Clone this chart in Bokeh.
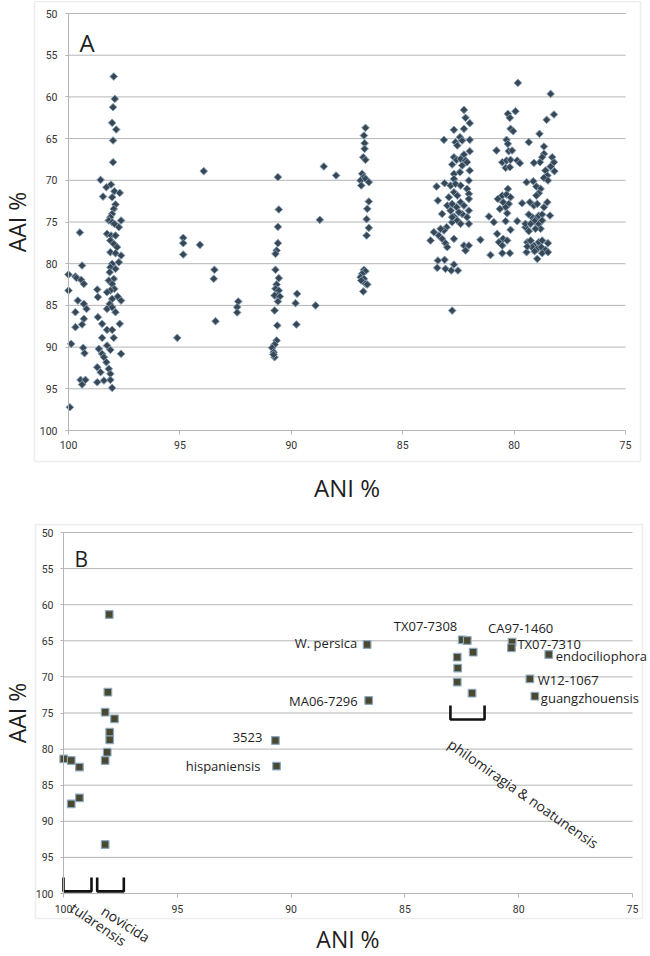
import numpy as np
from bokeh.plotting import figure
from bokeh.models import Range1d, FixedTicker, BoxAnnotation, Label
from bokeh.layouts import column
from bokeh.embed import file_html
from bokeh.resources import INLINE

# ---------------- data ----------------
x_ticks = [100, 95, 90, 85, 80, 75]
y_ticks = [50, 55, 60, 65, 70, 75, 80, 85, 90, 95, 100]

# Panel A: all pairwise comparisons (ANI %, AAI %)
a_tul_ani = [100.0, 100.0, 99.69, 99.64, 99.49, 99.39, 99.43, 99.31, 99.58, 99.31, 99.19,
             99.69, 99.31, 99.39, 99.69, 99.88, 99.34, 99.28, 99.46, 99.39, 99.24, 99.94]
a_tul_aai = [81.3, 83.22, 81.54, 81.7, 76.26, 80.22, 81.94, 82.42, 84.42, 84.82, 85.42,
             85.81, 86.61, 87.29, 87.61, 89.61, 90.09, 90.73, 93.93, 94.49, 93.93, 97.21]

a_nov_ani = [97.97, 97.92, 98.0, 98.04, 97.86, 98.0, 98.0, 98.56, 98.3, 98.09, 98.45, 98.04,
             97.94, 97.7, 97.89, 97.97, 98.04, 98.12, 98.19, 98.04, 97.94, 97.64, 97.74, 98.27,
             98.09, 97.89, 98.12, 97.97, 97.82, 98.12, 97.89, 97.64, 97.74, 98.04, 98.12, 97.89,
             98.15, 97.97, 98.19, 98.04, 97.94, 98.12, 98.27, 97.79, 97.64, 98.04, 98.15, 98.27,
             98.04, 97.89, 97.7, 98.49, 98.68, 98.49, 97.97, 98.27, 98.04, 98.27, 98.12, 98.64,
             98.49, 98.41, 97.64, 98.3, 98.71, 98.56, 98.19, 98.12, 98.71, 98.41, 98.12, 98.04,
             98.71, 98.68]
a_nov_aai = [57.56, 60.24, 61.24, 63.11, 63.91, 65.23, 67.83, 69.95, 70.83, 70.51, 71.95, 72.03,
             71.31, 71.51, 72.9, 73.43, 74.02, 74.42, 74.82, 75.02, 75.22, 74.82, 75.62, 76.42,
             76.62, 76.62, 77.22, 77.62, 78.02, 78.62, 78.74, 79.02, 79.82, 80.02, 80.42, 80.62,
             81.02, 81.82, 82.02, 82.42, 83.02, 83.22, 83.42, 83.94, 84.42, 84.22, 84.82, 85.42,
             85.22, 85.81, 87.21, 87.21, 86.41, 88.89, 88.89, 87.93, 87.93, 89.81, 90.33, 90.21,
             90.81, 91.21, 90.81, 91.81, 92.41, 93.01, 92.61, 93.21, 94.21, 94.01, 93.93, 94.89,
             83.1, 84.0]

a_mid_ani = [94.85, 94.85, 94.85, 95.12, 93.93, 90.6, 94.1, 93.45, 93.48, 93.4, 92.38, 92.43,
             92.43, 90.56, 90.6, 90.6, 90.66, 90.71, 90.71, 90.56, 90.66, 90.71, 90.56, 90.63,
             90.75, 90.51, 90.6, 90.75, 89.74, 89.81, 88.91, 89.77, 90.63, 90.66, 90.75, 90.86,
             90.79, 90.75, 90.8, 88.54, 87.99, 88.72]
a_mid_aai = [76.9, 77.54, 78.9, 88.89, 68.9, 69.62, 77.74, 80.73, 81.81, 86.89, 84.53, 85.21,
             85.85, 73.5, 75.58, 77.54, 78.42, 78.82, 80.73, 81.73, 82.49, 83.01, 83.21, 83.81,
             83.81, 83.93, 84.53, 85.61, 83.61, 84.73, 85.01, 87.29, 87.41, 89.21, 89.69, 90.09,
             90.61, 91.21, 90.9, 68.34, 69.42, 74.74]

a_per_ani = [86.67, 86.74, 86.71, 86.71, 86.77, 86.67, 86.82, 86.74, 86.89, 86.67, 86.52, 86.86,
             86.52, 86.59, 86.62, 86.52, 86.62, 86.74, 86.67, 86.82, 86.89, 86.74, 86.86, 86.67,
             86.59, 86.77]
a_per_aai = [63.71, 64.63, 65.55, 66.23, 67.23, 67.55, 69.22, 69.62, 70.02, 69.82, 70.22, 70.62,
             72.54, 73.42, 74.66, 75.7, 76.62, 80.73, 80.89, 81.21, 81.61, 81.81, 82.01, 82.41,
             82.49, 83.33]

a_phi_ani = [82.25, 82.18, 82.7, 82.25, 81.99, 83.15, 82.63, 82.43, 82.33, 81.99, 82.55, 81.99,
             82.25, 82.7, 82.58, 82.4, 82.18, 82.78, 82.33, 82.11, 81.99, 82.7, 82.43, 82.7,
             83.48, 83.12, 82.85, 82.63, 82.4, 82.03, 82.11, 82.7, 82.55, 82.03, 83.42, 83.0,
             82.78, 82.58, 82.4, 82.25, 82.03, 82.03, 83.23, 82.7, 82.33, 82.11, 82.78, 82.55,
             82.4, 82.03, 83.03, 83.15, 83.6, 83.75, 83.38, 83.23, 83.08, 83.0, 82.7, 82.25,
             82.03, 82.18, 83.42, 83.45, 83.12, 83.08, 82.82, 82.7, 82.52, 82.78, 81.51, 82.93,
             82.85, 82.48, 83.3, 82.78]
a_phi_aai = [61.56, 62.51, 63.95, 63.83, 63.15, 65.15, 65.43, 64.83, 65.23, 65.15, 65.83, 66.51,
             66.91, 67.23, 67.55, 67.43, 67.63, 68.11, 68.23, 67.83, 68.83, 69.23, 69.03, 69.83,
             70.75, 70.35, 70.63, 70.43, 70.63, 70.03, 71.03, 71.43, 71.83, 71.63, 72.43, 73.03,
             72.83, 73.23, 72.63, 73.03, 72.23, 73.63, 74.03, 74.34, 74.03, 74.42, 75.02, 74.82,
             75.22, 75.22, 75.62, 76.02, 76.22, 77.22, 76.62, 77.02, 77.54, 78.02, 77.02, 77.82,
             77.82, 78.42, 79.62, 80.5, 79.54, 80.62, 80.82, 80.1, 80.82, 85.62, 77.14, 72.03,
             73.63, 73.83, 75.82, 74.42]

a_c80_ani = [79.83, 80.28, 80.19, 79.94, 80.16, 80.04, 80.34, 80.28, 80.24, 80.09, 80.53, 80.34,
             80.16, 79.86, 79.74, 80.38, 80.19, 80.79, 80.28, 80.53, 80.34, 80.16, 80.73, 80.49,
             80.24, 80.38, 80.64, 80.31, 79.64, 81.13, 80.91, 80.38, 80.16, 80.76, 80.49, 80.68,
             80.31, 80.53, 80.53, 80.19, 79.86, 81.06, 79.34, 79.44, 79.29, 79.49, 79.41, 79.44]
a_c80_aai = [58.32, 62.03, 62.51, 61.72, 63.83, 64.11, 65.15, 65.63, 66.51, 66.43, 67.83, 67.63,
             67.55, 67.63, 67.95, 68.51, 68.43, 66.43, 71.03, 71.83, 71.71, 72.03, 72.23, 72.63,
             72.83, 73.23, 73.43, 73.95, 72.75, 74.34, 75.02, 74.9, 75.94, 76.42, 77.02, 77.42,
             77.22, 77.82, 78.74, 78.74, 74.9, 78.96, 65.43, 70.23, 72.63, 75.62, 77.42, 78.62]

a_c78_ani = [78.36, 78.21, 78.54, 78.86, 78.66, 78.66, 78.74, 78.84, 79.11, 78.29, 78.21, 78.36,
             78.19, 78.59, 78.51, 78.66, 78.48, 79.14, 79.0, 78.81, 78.89, 79.0, 79.11, 78.96,
             78.51, 78.66, 79.19, 79.04, 78.89, 78.74, 78.39, 79.08, 78.89, 78.74, 78.81, 79.04,
             79.11, 78.89, 78.74, 78.48, 79.19, 78.96, 78.78, 78.59, 79.08, 78.74, 78.48, 78.96,
             79.34, 79.49, 79.26, 79.34, 79.26, 79.41]
a_c78_aai = [59.64, 62.11, 62.75, 64.43, 65.95, 66.83, 67.23, 67.83, 67.91, 67.23, 67.83, 68.35,
             68.91, 68.83, 69.43, 69.71, 70.03, 70.11, 70.75, 71.03, 71.55, 71.83, 73.03, 72.83,
             72.63, 73.23, 74.42, 74.62, 74.23, 74.1, 74.23, 74.9, 75.22, 74.82, 75.82, 75.82,
             77.82, 77.42, 77.22, 77.54, 78.02, 78.22, 78.02, 78.34, 78.5, 78.74, 78.62, 79.42,
             74.1, 75.22, 75.22, 76.1, 77.22, 77.94]

# Panel B: representative genomes
b_ani = [99.99, 99.66, 99.3, 99.66, 99.3,
         97.99, 98.05, 98.17, 97.76, 97.97, 97.97, 98.08, 98.17, 98.17,
         90.69, 90.64, 86.66, 86.59,
         82.48, 82.26, 82.0, 82.7, 82.68, 82.7, 82.05,
         80.29, 80.32, 78.68, 79.51, 79.29]
b_aai = [81.35, 81.58, 82.5, 87.58, 86.75,
         61.36, 72.12, 74.89, 75.8, 77.66, 78.71, 80.43, 81.58, 93.21,
         78.81, 82.36, 65.51, 73.27,
         64.86, 64.96, 66.58, 67.27, 68.79, 70.73, 72.26,
         65.19, 65.97, 66.9, 70.27, 72.67]
b_labels = ["", "", "", "", "",
            "", "", "", "", "", "", "", "", "",
            "3523", "hispaniensis", "W. persica", "MA06-7296",
            "TX07-7308", "", "", "", "", "", "",
            "CA97-1460", "TX07-7310", "endociliophora", "W12-1067", "guangzhouensis"]

group_names = ["tularensis", "novicida", "philomiragia & noatunensis"]
group_ani_from = [100.0, 98.52, 83.0]
group_ani_to = [98.77, 97.35, 81.5]
group_aai_top = [97.8, 97.8, 73.96]
group_aai_bottom = [99.7, 99.7, 75.9]

# ---------------- styles / geometry ----------------
FONT = "Open Sans"
TICK_FONT = "Roboto"
GRID = "#b5b5b5"
BOX = "#c4c4c4"
TXT = "#1e1e1e"
W = 650

label_style = {  # x_offset, y_offset (px), align
    "3523": (-13, 3, "right"),
    "hispaniensis": (-16, 0, "right"),
    "W. persica": (-10, 1, "right"),
    "MA06-7296": (-11, 0, "right"),
    "TX07-7308": (-5, 14, "right"),
    "CA97-1460": (-24, 14, "left"),
    "TX07-7310": (6, 4, "left"),
    "endociliophora": (7, -1, "left"),
    "W12-1067": (8, -1, "left"),
    "guangzhouensis": (6, -2, "left"),
}


def ranges(height, px100, px75, py50, py100):
    """Extend the 100..75 / 50..100 data window so that it lands at the given pixels."""
    ux = 25.0 / (px75 - px100)
    uy = 50.0 / (py100 - py50)
    xr = Range1d(100 + px100 * ux, 75 - (W - px75) * ux)
    yr = Range1d(100 + (height - py100) * uy, 50 - py50 * uy)
    return xr, yr


def panel(height, geom, box, tick_size):
    xr, yr = ranges(height, *geom)
    p = figure(width=W, height=height, output_backend="svg", toolbar_location=None,
               title=None, x_range=xr, y_range=yr,
               min_border_left=0, min_border_right=0, min_border_top=0, min_border_bottom=0)
    p.outline_line_color = None
    p.background_fill_color = "white"
    p.border_fill_color = "white"
    p.xgrid.visible = False
    p.ygrid.visible = False
    # grid lines across the plot area only
    p.segment(x0=100, x1=75, y0=y_ticks[:-1], y1=y_ticks[:-1],
              line_color=GRID, line_width=1)
    for ax in (p.xaxis[0], p.yaxis[0]):
        ax.fixed_location = 100
        ax.axis_line_color = GRID
        ax.axis_line_width = 1
        ax.major_tick_line_color = GRID
        ax.major_tick_in = 0
        ax.minor_tick_line_color = None
        ax.major_label_text_font = TICK_FONT
        ax.major_label_text_font_size = tick_size
        ax.major_label_text_color = "#333333"
        ax.axis_label_text_font = FONT
        ax.axis_label_text_font_style = "normal"
        ax.axis_label_text_color = TXT
    p.xaxis.ticker = FixedTicker(ticks=x_ticks)
    p.yaxis.ticker = FixedTicker(ticks=y_ticks)
    p.xaxis.bounds = (75, 100)
    p.yaxis.bounds = (50, 100)
    p.xaxis.major_tick_out = 4
    p.yaxis.major_tick_out = 3
    p.xaxis.axis_label = "ANI %"
    p.yaxis.axis_label = "AAI %"
    p.add_layout(BoxAnnotation(left=box[0], top=box[1], right=box[2], bottom=box[3],
                               left_units="canvas", right_units="canvas",
                               top_units="canvas", bottom_units="canvas",
                               fill_color=None, line_color=BOX, line_width=1.5))
    return p


def txt(**kw):
    kw.setdefault("text_font", FONT)
    kw.setdefault("text_color", TXT)
    return Label(**kw)


# ---------------- panel A ----------------
pA = panel(506, (68, 625, 13, 430), (34, 1, 640, 461), "10.5px")
pA.xaxis.major_label_standoff = 6
pA.yaxis.major_label_standoff = 8
pA.xaxis.axis_label_standoff = 19
pA.yaxis.axis_label_standoff = 4
pA.xaxis.axis_label_text_font_size = "24px"
pA.yaxis.axis_label_text_font_size = "23px"

for xs, ys in [(a_tul_ani, a_tul_aai), (a_nov_ani, a_nov_aai), (a_mid_ani, a_mid_aai),
               (a_per_ani, a_per_aai), (a_phi_ani, a_phi_aai), (a_c80_ani, a_c80_aai),
               (a_c78_ani, a_c78_aai)]:
    pA.scatter(xs, ys, marker="square", angle=np.pi / 4, size=5.4,
               fill_color="#394753", line_color="#7f9cb8", line_width=1)

pA.add_layout(txt(x=79, y=42, x_units="canvas", y_units="canvas", text="A",
                  text_font_size="24px", text_align="left", text_baseline="alphabetic"))

# ---------------- panel B ----------------
pB = panel(450, (63, 632, 26, 387), (35, 18, 642, 412), "10.5px")
pB.xaxis.major_label_standoff = 7
pB.yaxis.major_label_standoff = 7
pB.xaxis.axis_label_standoff = 7
pB.yaxis.axis_label_standoff = 0
pB.xaxis.axis_label_text_font_size = "23px"
pB.yaxis.axis_label_text_font_size = "23px"

pB.scatter(b_ani, b_aai, marker="square", size=7.6, fill_color="#4a4930",
           line_color="#8aa8c0", line_width=1.2)

for i, name in enumerate(group_names):
    x0, x1 = group_ani_from[i], group_ani_to[i]
    t, b = group_aai_top[i], group_aai_bottom[i]
    pB.line([x0, x0, x1, x1], [t, b, b, t], line_color="#111111", line_width=2.6)

for xv, yv, lab in zip(b_ani, b_aai, b_labels):
    if not lab:
        continue
    dx, dy, al = label_style[lab]
    pB.add_layout(txt(x=xv, y=yv, x_offset=dx, y_offset=dy, text=lab,
                      text_font_size="13px", text_align=al, text_baseline="middle"))

# group captions under the brackets (anchored at the bracket start, offset in px)
group_label_offset = [(14, -7, -0.60), (11, -10, -0.57), (5, -15, -0.61)]
for i, name in enumerate(group_names):
    dx, dy, ang = group_label_offset[i]
    pB.add_layout(txt(x=group_ani_from[i], y=group_aai_bottom[i], x_offset=dx, y_offset=dy,
                      text=name, angle=ang, text_font_size="14px",
                      text_align="left", text_baseline="top"))

pB.add_layout(txt(x=74, y=52, x_units="canvas", y_units="canvas", text="B",
                  text_font_size="21px", text_align="left", text_baseline="alphabetic"))

layout = column(pA, pB, spacing=0)
open("out.html", "w").write(file_html(layout, INLINE))
